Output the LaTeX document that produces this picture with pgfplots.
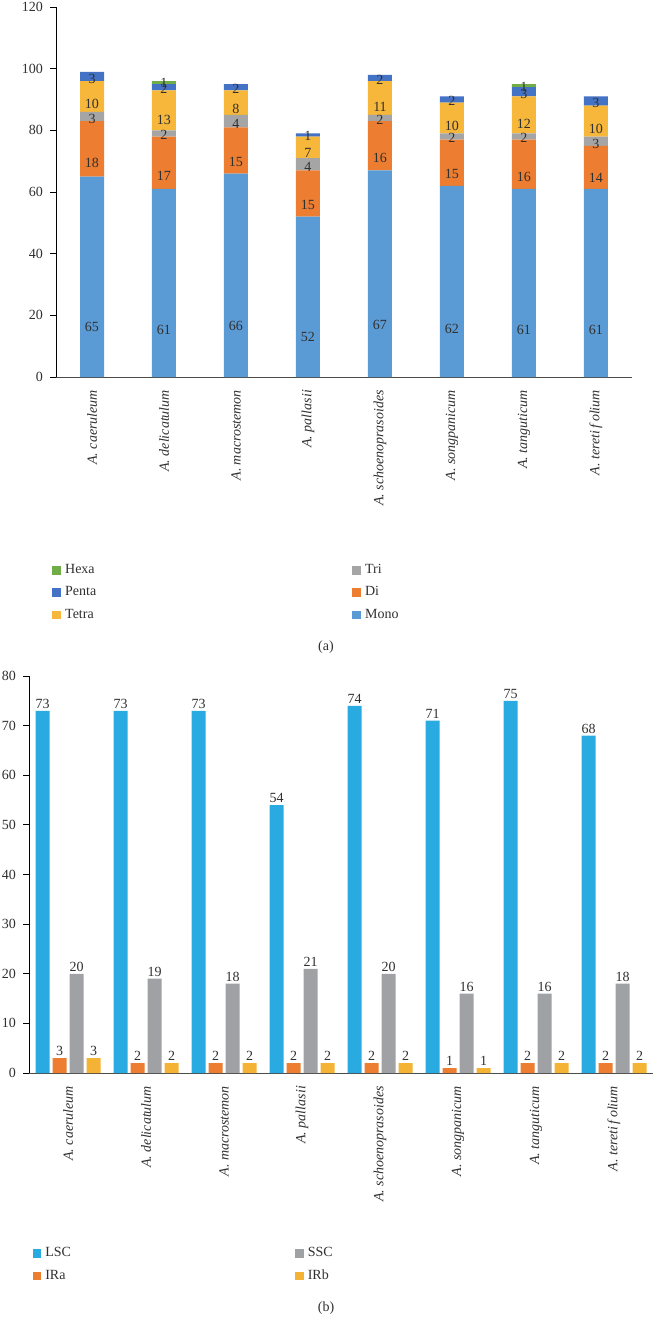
\documentclass[border=0pt]{standalone}
\usepackage{pgfplots}
\pgfplotsset{compat=1.18}
\usepackage{fontspec}
\setmainfont{Liberation Serif}
\definecolor{cMono}{HTML}{5B9BD5}
\definecolor{cDi}{HTML}{ED7D31}
\definecolor{cTri}{HTML}{A5A5A5}
\definecolor{cTetra}{HTML}{F6B73A}
\definecolor{cPenta}{HTML}{4472C4}
\definecolor{cHexa}{HTML}{70AD47}
\definecolor{cLSC}{HTML}{29ABE2}
\definecolor{cSSC}{HTML}{A0A1A5}
\definecolor{cIRb}{HTML}{F5B335}
\definecolor{txt}{HTML}{303030}
\newcommand{\fs}{\fontsize{7}{8}\selectfont}
\pgfplotsset{
  sq legend/.style={legend image code/.code={\fill[##1,draw=none] (0pt,-2.2pt) rectangle (4.4pt,2.2pt);}},
  common/.style={
    scale only axis,
    xmin=-0.5, xmax=7.5, ymin=0,
    xtick={0,...,7},
    xticklabels={A. caeruleum, A. delicatulum, A. macrostemon, A. pallasii, A. schoenoprasoides, A. songpanicum, A. tanguticum, A. tereti\,f\,olium},
    xticklabel style={rotate=90, anchor=east, font=\fs\itshape, text=txt},
    yticklabel style={font=\fs, text=txt},
    /pgf/number format/assume math mode=true,
    axis x line*=bottom, axis y line*=left,
    tick align=outside,
    x tick style={draw=none},
    y tick style={black, thin},
    major tick length=3pt,
    x axis line style={draw=black!70, thin},
    y axis line style={draw=black, thin},
    legend cell align=left,
  },
}
\begin{document}
\begin{tikzpicture}
\useasboundingbox (0,0) rectangle (326.5pt,-658.5pt);
% ---------------- (a)
\begin{axis}[common,
  at={(28pt,-3.5pt)}, anchor=north west,
  width=288pt, height=185pt,
  ymax=120, ytick={0,20,...,120},
  ybar stacked, bar width=12pt, sq legend,
  visualization depends on=rawy\as\rawy,
  nodes near coords={\ifdim\rawy pt>0.5pt\pgfmathprintnumber{\rawy}\fi},
  nodes near coords align={center},
  every node near coord/.append style={font=\fs, text=txt, anchor=center, inner sep=0pt, shift={(axis direction cs:0,-\rawy/4)}},
  reverse legend, transpose legend, legend columns=3,
  legend style={at={(-0.007,-0.4946)}, anchor=north west, draw=none, fill=none, font=\fs, text=txt,
    row sep=1pt, inner sep=0pt,
    /tikz/every even column/.append style={column sep=126pt}},
]
\addplot[fill=cMono, draw=none] coordinates {(0,65) (1,61) (2,66) (3,52) (4,67) (5,62) (6,61) (7,61)};
\addlegendentry{Mono}
\addplot[fill=cDi, draw=none] coordinates {(0,18) (1,17) (2,15) (3,15) (4,16) (5,15) (6,16) (7,14)};
\addlegendentry{Di}
\addplot[fill=cTri, draw=none] coordinates {(0,3) (1,2) (2,4) (3,4) (4,2) (5,2) (6,2) (7,3)};
\addlegendentry{Tri}
\addplot[fill=cTetra, draw=none] coordinates {(0,10) (1,13) (2,8) (3,7) (4,11) (5,10) (6,12) (7,10)};
\addlegendentry{Tetra}
\addplot[fill=cPenta, draw=none] coordinates {(0,3) (1,2) (2,2) (3,1) (4,2) (5,2) (6,3) (7,3)};
\addlegendentry{Penta}
\addplot[fill=cHexa, draw=none] coordinates {(0,0) (1,1) (2,0) (3,0) (4,0) (5,0) (6,1) (7,0)};
\addlegendentry{Hexa}
\end{axis}
\node[font=\fs, text=txt] at (163pt,-323.5pt) {(a)};
% ---------------- (b)
\begin{axis}[common,
  at={(14.5pt,-338pt)}, anchor=north west,
  width=312pt, height=198.5pt,
  ymax=80, ytick={0,10,...,80},
  ybar=1.5pt, bar width=7pt, sq legend,
  nodes near coords,
  every node near coord/.append style={font=\fs, text=txt, inner sep=1pt},
  transpose legend, legend columns=2,
  legend style={at={(0.005,-0.428)}, anchor=north west, draw=none, fill=none, font=\fs, text=txt,
    row sep=1pt, inner sep=0pt,
    /tikz/every even column/.append style={column sep=110pt}},
]
\addplot[fill=cLSC, draw=none] coordinates {(0,73) (1,73) (2,73) (3,54) (4,74) (5,71) (6,75) (7,68)};
\addlegendentry{LSC}
\addplot[fill=cDi, draw=none] coordinates {(0,3) (1,2) (2,2) (3,2) (4,2) (5,1) (6,2) (7,2)};
\addlegendentry{IRa}
\addplot[fill=cSSC, draw=none] coordinates {(0,20) (1,19) (2,18) (3,21) (4,20) (5,16) (6,16) (7,18)};
\addlegendentry{SSC}
\addplot[fill=cIRb, draw=none] coordinates {(0,3) (1,2) (2,2) (3,2) (4,2) (5,1) (6,2) (7,2)};
\addlegendentry{IRb}
\end{axis}
\node[font=\fs, text=txt] at (163pt,-654pt) {(b)};
\end{tikzpicture}
\end{document}
